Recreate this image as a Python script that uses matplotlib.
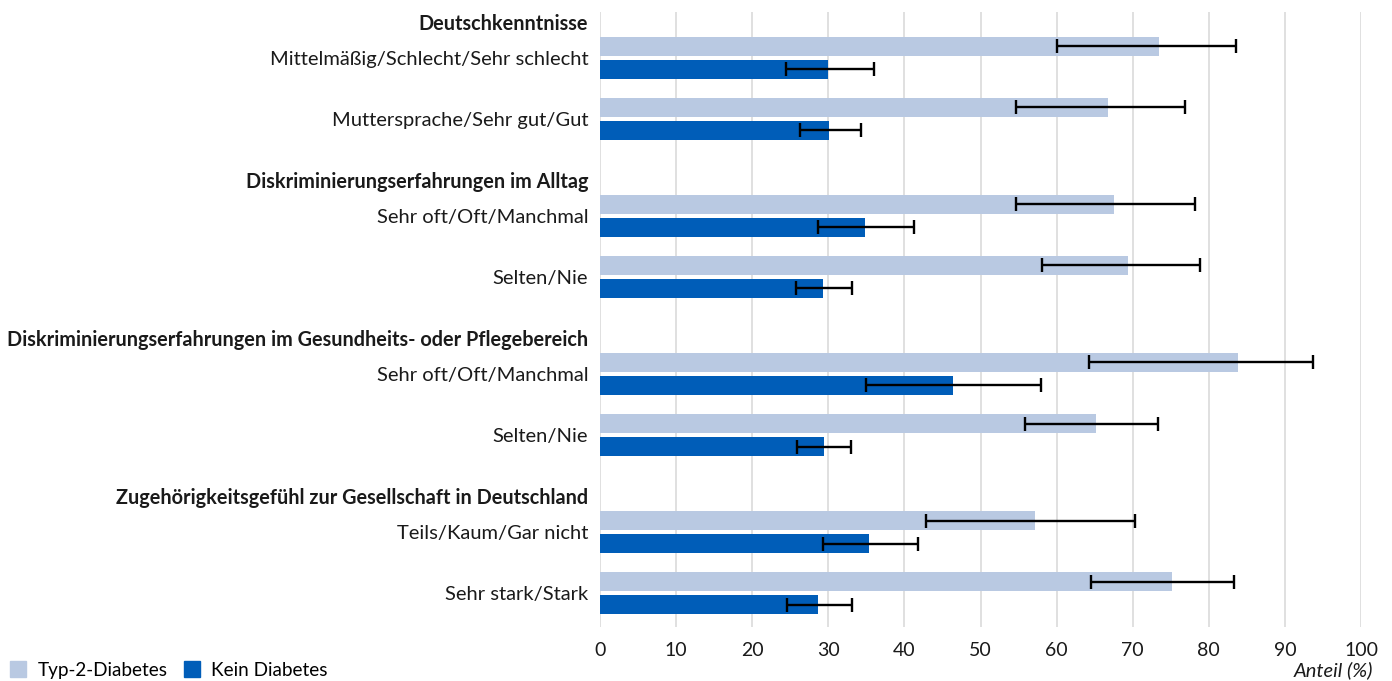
import matplotlib.pyplot as plt
from matplotlib.patches import Patch

plt.rcParams['font.family'] = ['Lato', 'DejaVu Sans']

groups = [
    "Deutschkenntnisse",
    "Diskriminierungserfahrungen im Alltag",
    "Diskriminierungserfahrungen im Gesundheits- oder Pflegebereich",
    "Zugehörigkeitsgefühl zur Gesellschaft in Deutschland",
]
categories = [
    ["Mittelmäßig/Schlecht/Sehr schlecht", "Muttersprache/Sehr gut/Gut"],
    ["Sehr oft/Oft/Manchmal", "Selten/Nie"],
    ["Sehr oft/Oft/Manchmal", "Selten/Nie"],
    ["Teils/Kaum/Gar nicht", "Sehr stark/Stark"],
]

# Anteil in %, mit 95%-Konfidenzintervall
t2d = [73.5, 66.8, 67.6, 69.4, 83.9, 65.2, 57.2, 75.1]
t2d_lo = [60.1, 54.7, 54.7, 58.1, 64.2, 55.9, 42.9, 64.5]
t2d_hi = [83.6, 76.9, 78.2, 78.8, 93.7, 73.3, 70.3, 83.3]
kein = [29.9, 30.1, 34.8, 29.3, 46.4, 29.4, 35.3, 28.7]
kein_lo = [24.4, 26.3, 28.7, 25.7, 35.0, 25.9, 29.3, 24.6]
kein_hi = [36.0, 34.3, 41.3, 33.1, 57.9, 33.0, 41.8, 33.1]

c_t2d = "#b9c9e2"
c_kein = "#005db8"

# vertical layout in pixel units, y axis inverted
y = 10
header_pos, label_pos, t2d_pos, kein_pos = [], [], [], []
for g, cats in zip(groups, categories):
    header_pos.append(y)
    yb = y + 24.5
    for c in cats:
        t2d_pos.append(yb)
        kein_pos.append(yb + 23)
        label_pos.append(yb + 11.5)
        yb += 61
    y = kein_pos[-1] + 49.5

fig = plt.figure(figsize=(13.92, 6.81), dpi=100)
ax = fig.add_axes([600 / 1392, 54 / 681, 761 / 1392, 615 / 681])

ax.barh(t2d_pos, t2d, height=19, color=c_t2d, zorder=2)
ax.barh(kein_pos, kein, height=19, color=c_kein, zorder=2)

err_kw = dict(fmt='none', ecolor='black', elinewidth=1.7, capsize=5,
              capthick=1.7, zorder=3)
ax.errorbar(t2d, t2d_pos,
            xerr=[[v - l for v, l in zip(t2d, t2d_lo)],
                  [h - v for v, h in zip(t2d, t2d_hi)]], **err_kw)
ax.errorbar(kein, kein_pos,
            xerr=[[v - l for v, l in zip(kein, kein_lo)],
                  [h - v for v, h in zip(kein, kein_hi)]], **err_kw)

ax.set_xlim(0, 100)
ax.set_ylim(615, 0)
ax.set_xticks(range(0, 101, 10))
ax.xaxis.grid(True, color="#dddddd", linewidth=1.3, zorder=0)
ax.set_axisbelow(True)
for s in ax.spines.values():
    s.set_visible(False)
ax.tick_params(axis='x', length=0, labelsize=14, pad=11, colors="#1a1a1a")

ticks = header_pos + label_pos
labels = groups + [c for cats in categories for c in cats]
ax.set_yticks(ticks)
ax.set_yticklabels(labels)
ax.tick_params(axis='y', length=0, labelsize=14.5, pad=8.5, colors="#1a1a1a")
for lab in ax.get_yticklabels()[:len(groups)]:
    lab.set_fontweight('bold')
    lab.set_fontsize(14.3)

fig.text(1373 / 1392, 1 - 670 / 681, "Anteil (%)", style='italic',
         ha='right', va='center', fontsize=14.5, color="#1a1a1a")

handles = [Patch(color=c_t2d, label="Typ-2-Diabetes"),
           Patch(color=c_kein, label="Kein Diabetes")]
fig.legend(handles=handles, loc='center left',
           bbox_to_anchor=(-3 / 1392, 1 - 670 / 681), ncol=2, frameon=False,
           fontsize=13.6, handlelength=0.85, handleheight=0.85,
           handletextpad=0.6, columnspacing=0.85, borderpad=0.2)

fig.savefig("out.png", dpi=100)
